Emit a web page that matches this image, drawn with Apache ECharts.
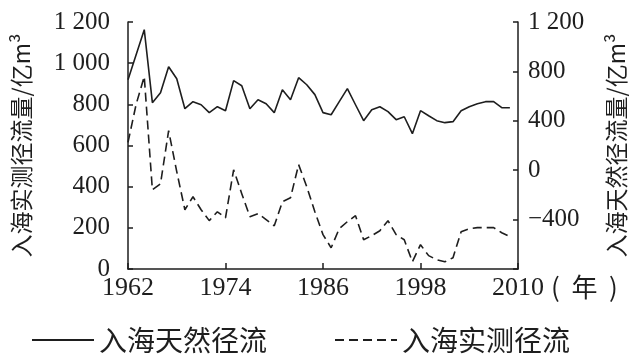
<!DOCTYPE html>
<html>
<head>
<meta charset="utf-8">
<script src="https://cdn.jsdelivr.net/npm/echarts@6/dist/echarts.min.js"></script>
<style>
html,body{margin:0;padding:0;background:#fff;}
#chart{width:644px;height:360px;}
</style>
</head>
<body>
<div id="chart"></div>
<script>
// ---- data ----
var years = [1962,1963,1964,1965,1966,1967,1968,1969,1970,1971,1972,1973,1974,1975,1976,1977,1978,1979,1980,1981,1982,1983,1984,1985,1986,1987,1988,1989,1990,1991,1992,1993,1994,1995,1996,1997,1998,1999,2000,2001,2002,2003,2004,2005,2006,2007,2008,2009];
// 入海天然径流 (right axis)
var natural = [733,935,1138,547,628,838,741,498,555,530,466,514,482,725,684,498,571,538,466,652,571,749,692,612,466,449,555,660,530,401,490,514,474,409,433,296,482,441,401,385,393,482,514,538,555,555,506,506];
// 入海实测径流 (left axis)
var measured = [615,800,935,385,414,672,473,288,351,288,235,278,249,482,366,254,269,240,210,327,346,507,400,278,167,103,196,230,259,142,162,186,235,167,142,35,118,65,45,35,55,181,196,201,201,201,176,157];
var xTicks = [1962,1974,1986,1998,2010];
var leftTicks = [0,200,400,600,800,1000,1200];
var rightTicks = [-800,-400,0,400,800,1200];
var seriesNames = ['入海天然径流','入海实测径流'];
var leftName = '入海实测径流量/亿m³';
var rightName = '入海天然径流量/亿m³';
var xName = '(  年  )';

function pairs(xs, ys){ return xs.map(function(x,i){ return [x, ys[i]]; }); }
function fmtNum(v){
  if (v === rightTicks[0]) return '';
  var s = String(Math.abs(v));
  if (Math.abs(v) >= 1000) s = s.slice(0, s.length-3) + ' ' + s.slice(-3);
  return (v < 0 ? '\u2212' : '') + s;
}

var ink = '#1e1e1e';
var serif = '"Liberation Serif","DejaVu Serif",serif';
var cjk = '"Noto Sans CJK SC","Noto Sans CJK JP",sans-serif';

var chart = echarts.init(document.getElementById('chart'), null, {renderer:'canvas'});
chart.setOption({
  animation:false,
  backgroundColor:'#fff',
  grid:{left:128, right:126, top:22, bottom:91},
  legend:{
    left:26, top:321, itemWidth:62, itemHeight:14, itemGap:67,
    data:seriesNames,
    itemStyle:{opacity:0},
    textStyle:{fontFamily:cjk, fontSize:28, color:ink}
  },
  xAxis:{
    type:'value', min:xTicks[0], max:xTicks[xTicks.length-1], interval:12,
    name:xName, nameLocation:'end', nameGap:33, nameMoveOverlap:false,
    nameTextStyle:{fontFamily:cjk, fontSize:26, color:ink, verticalAlign:'top', padding:[5,0,0,0]},
    axisLine:{lineStyle:{color:ink, width:1.5}},
    axisTick:{inside:true, length:6, lineStyle:{color:ink, width:1.5}},
    axisLabel:{fontFamily:serif, fontSize:26, color:ink, margin:6, formatter:function(v){ return String(v); }},
    splitLine:{show:false}
  },
  yAxis:[{
    type:'value', min:leftTicks[0], max:leftTicks[leftTicks.length-1], interval:200, position:'left',
    name:leftName, nameLocation:'middle', nameGap:95, nameRotate:90,
    nameTextStyle:{fontFamily:cjk, fontSize:23, color:ink},
    axisLine:{show:true, lineStyle:{color:ink, width:1.5}},
    axisTick:{show:true, inside:true, length:5, lineStyle:{color:ink, width:1.5}},
    axisLabel:{fontFamily:serif, fontSize:25, color:ink, margin:18, formatter:fmtNum},
    splitLine:{show:false}
  },{
    type:'value', min:rightTicks[0], max:rightTicks[rightTicks.length-1], interval:400, position:'right',
    name:rightName, nameLocation:'middle', nameGap:87, nameRotate:90,
    nameTextStyle:{fontFamily:cjk, fontSize:23, color:ink},
    axisLine:{show:true, lineStyle:{color:ink, width:1.5}},
    axisTick:{show:true, inside:true, length:5, lineStyle:{color:ink, width:1.5}},
    axisLabel:{fontFamily:serif, fontSize:25, color:ink, margin:10, formatter:fmtNum},
    splitLine:{show:false}
  }],
  series:[{
    name:seriesNames[0], type:'line', yAxisIndex:1, symbol:'none',
    data:pairs(years, natural),
    lineStyle:{color:ink, width:1.6, type:'solid'},
    itemStyle:{color:ink}
  },{
    name:seriesNames[1], type:'line', yAxisIndex:0, symbol:'none',
    data:pairs(years, measured),
    lineStyle:{color:ink, width:1.6, type:[9,5]},
    itemStyle:{color:ink}
  }]
});
</script>
</body>
</html>
